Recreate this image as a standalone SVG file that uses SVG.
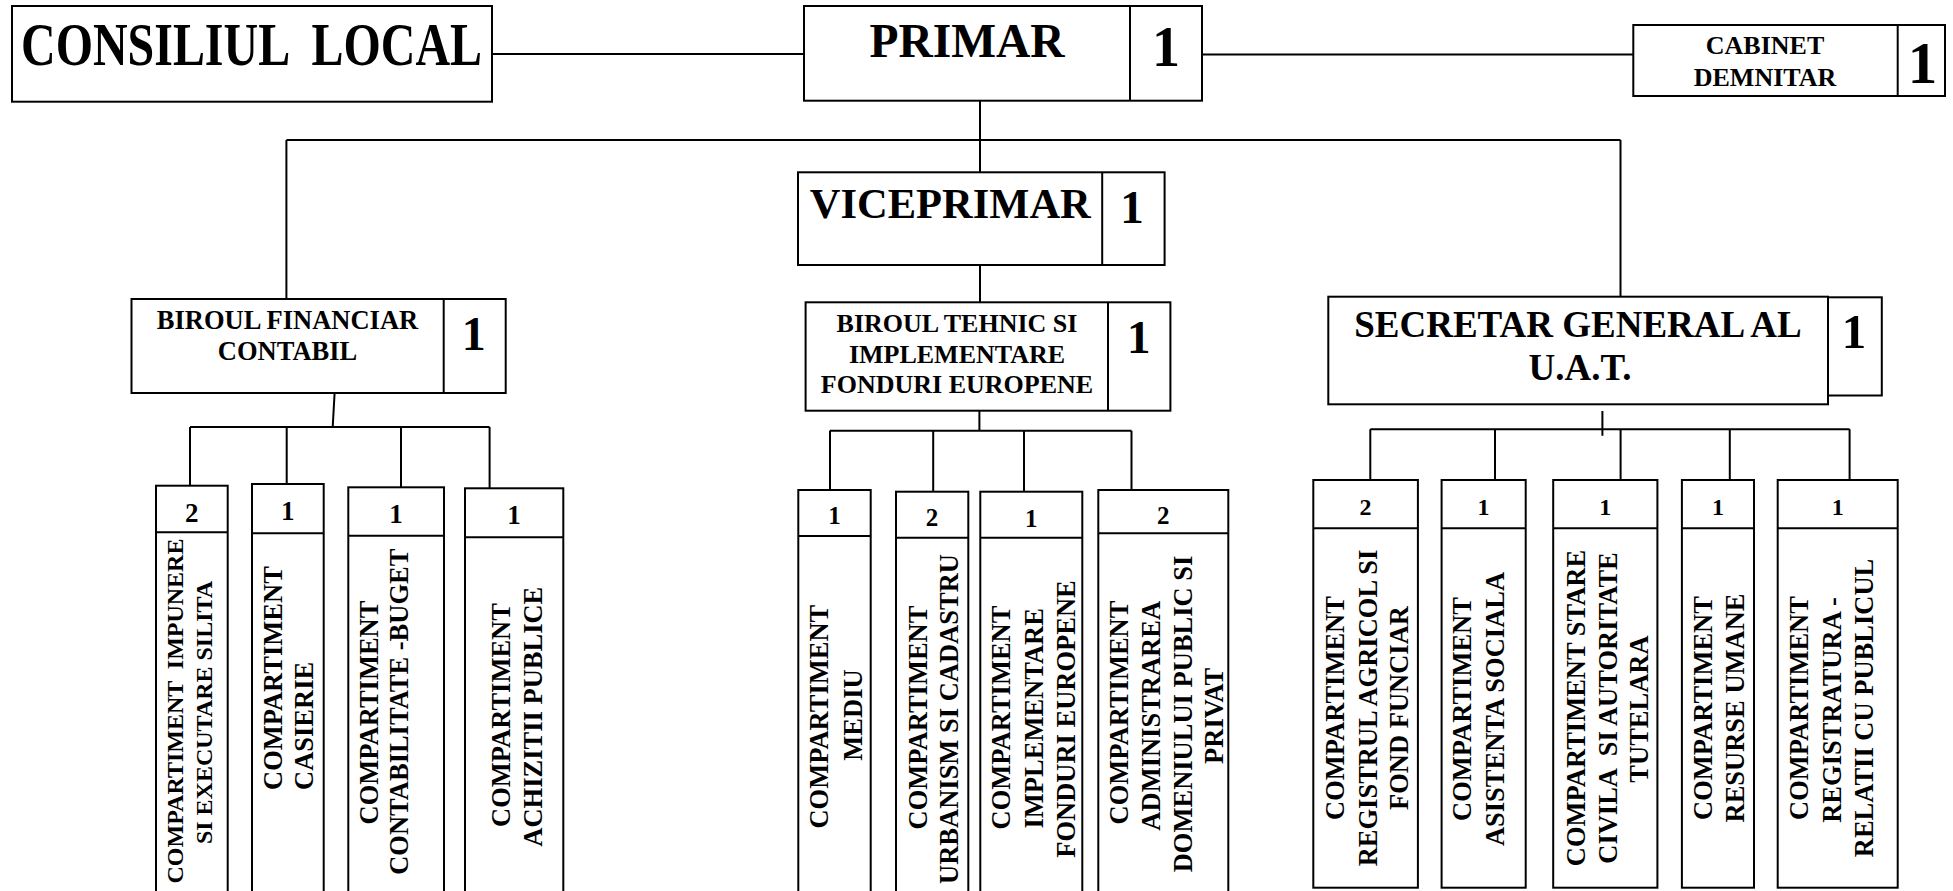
<svg xmlns="http://www.w3.org/2000/svg" width="1953" height="891" viewBox="0 0 1953 891">
<style>
.b{fill:#fff;stroke:#000;stroke-width:2}
.l{fill:none;stroke:#000;stroke-width:2}
text{font-family:"Liberation Serif","Times New Roman",serif;font-weight:bold;fill:#000}
.c{text-anchor:middle}
.v{font-size:26.5px;text-anchor:middle}
.s{font-size:24px;text-anchor:middle}
</style>
<rect width="1953" height="891" fill="#fff"/>
<g id="connectors">
<path class="l" d="M492 54H804M1202 54.5H1633M980 101V172.3M286.4 140H1620.5M286.4 140V299M1620.5 140V296.7M980 265V302.3"/>
<path class="l" d="M334.6 393L332.7 427M190 427H489.6M190 427V485.7M286.7 427V484M401 427V487.3M489.6 427V488.3"/>
<path class="l" d="M979.4 410.7V430.7M829.8 430.7H1131.5M830 430.7V490M933.2 430.7V491.7M1024 430.7V491.7M1131.5 430.7V490"/>
<path class="l" d="M1602.4 411V435.7M1370.3 429.3H1849.6M1370.3 429.3V480M1495 429.3V480M1620.6 429.3V480M1729.8 429.3V480M1849.6 429.3V480"/>
</g>
<g id="consiliul">
<rect class="b" x="12" y="6" width="480" height="95.7"/>
<text x="21" y="65" font-size="62" textLength="461" lengthAdjust="spacingAndGlyphs" xml:space="preserve">CONSILIUL  LOCAL</text>
</g>
<g id="primar">
<rect class="b" x="804" y="6" width="398" height="94.7"/>
<path class="l" d="M1130 6V100.7"/>
<text class="c" x="967" y="57" font-size="47.5">PRIMAR</text>
<text class="c" x="1166" y="66" font-size="56">1</text>
</g>
<g id="cabinet">
<rect class="b" x="1633.3" y="25" width="311.7" height="71"/>
<path class="l" d="M1897.7 25V96"/>
<text class="c" x="1765" y="54" font-size="26">CABINET</text>
<text class="c" x="1765" y="85.7" font-size="26">DEMNITAR</text>
<text class="c" x="1922.5" y="83.3" font-size="59">1</text>
</g>
<g id="viceprimar">
<rect class="b" x="798" y="172.3" width="366.6" height="92.7"/>
<path class="l" d="M1102.2 172.3V265"/>
<text class="c" x="950.3" y="218.3" font-size="42.5">VICEPRIMAR</text>
<text class="c" x="1132" y="223" font-size="47">1</text>
</g>
<g id="birou-financiar">
<rect class="b" x="131.5" y="299" width="374.2" height="94"/>
<path class="l" d="M443.7 299V393"/>
<text class="c" x="287.5" y="329" font-size="26.5">BIROUL FINANCIAR</text>
<text class="c" x="287.5" y="360" font-size="26.5">CONTABIL</text>
<text class="c" x="473.7" y="350" font-size="48">1</text>
</g>
<g id="birou-tehnic">
<rect class="b" x="805.6" y="302.3" width="364.8" height="108.4"/>
<path class="l" d="M1108 302.3V410.7"/>
<text class="c" x="957" y="331.7" font-size="26">BIROUL TEHNIC SI</text>
<text class="c" x="957" y="362.7" font-size="26">IMPLEMENTARE</text>
<text class="c" x="957" y="393.3" font-size="26">FONDURI EUROPENE</text>
<text class="c" x="1138.7" y="353" font-size="47">1</text>
</g>
<g id="secretar">
<rect class="b" x="1828" y="297.3" width="53.8" height="98.2"/>
<rect class="b" x="1328.3" y="296.7" width="499.7" height="107.6"/>
<text class="c" x="1578" y="337.3" font-size="37">SECRETAR GENERAL AL</text>
<text class="c" x="1580" y="380" font-size="37">U.A.T.</text>
<text class="c" x="1854" y="348.3" font-size="49">1</text>
</g>
<g id="comp-impunere">
<rect class="b" x="156" y="485.7" width="71.7" height="420"/>
<path class="l" d="M156 532.3H227.7"/>
<text class="c" x="191.8" y="521.7" font-size="27">2</text>
<text class="s" transform="translate(183.3 711) rotate(-90)" xml:space="preserve">COMPARTIMENT  IMPUNERE</text>
<text class="s" transform="translate(211.7 712.5) rotate(-90)">SI EXECUTARE SILITA</text>
</g>
<g id="comp-casierie">
<rect class="b" x="252" y="484" width="71.7" height="420"/>
<path class="l" d="M252 533.3H323.7"/>
<text class="c" x="287.8" y="520" font-size="27">1</text>
<text font-size="26.5" transform="translate(281.7 790) rotate(-90)">COMPARTIMENT</text>
<text font-size="26.5" transform="translate(313.3 790) rotate(-90)">CASIERIE</text>
</g>
<g id="comp-contabilitate">
<rect class="b" x="348.3" y="487.3" width="95.7" height="420"/>
<path class="l" d="M348.3 535.7H444"/>
<text class="c" x="396" y="522.7" font-size="27">1</text>
<text class="v" transform="translate(378.3 712.5) rotate(-90)">COMPARTIMENT</text>
<text class="v" transform="translate(408.3 711.7) rotate(-90)">CONTABILITATE -BUGET</text>
</g>
<g id="comp-achizitii">
<rect class="b" x="465" y="488.3" width="98.3" height="420"/>
<path class="l" d="M465 537.3H563.3"/>
<text class="c" x="514" y="524" font-size="27">1</text>
<text class="v" transform="translate(510 715) rotate(-90)">COMPARTIMENT</text>
<text class="v" transform="translate(541.7 716.7) rotate(-90)">ACHIZITII PUBLICE</text>
</g>
<g id="comp-mediu">
<rect class="b" x="798.3" y="490" width="72.4" height="420"/>
<path class="l" d="M798.3 536H870.7"/>
<text class="c" x="834.5" y="524.3" font-size="25">1</text>
<text class="v" transform="translate(828.3 716.7) rotate(-90)">COMPARTIMENT</text>
<text class="v" transform="translate(861.7 715) rotate(-90)">MEDIU</text>
</g>
<g id="comp-urbanism">
<rect class="b" x="896" y="491.7" width="72.3" height="420"/>
<path class="l" d="M896 537.7H968.3"/>
<text class="c" x="932" y="526" font-size="25">2</text>
<text class="v" transform="translate(926.7 717.5) rotate(-90)">COMPARTIMENT</text>
<text class="v" transform="translate(958.3 719) rotate(-90)">URBANISM SI CADASTRU</text>
</g>
<g id="comp-implementare">
<rect class="b" x="980.3" y="491.7" width="102" height="420"/>
<path class="l" d="M980.3 537.7H1082.3"/>
<text class="c" x="1031.3" y="526.7" font-size="25">1</text>
<text class="v" transform="translate(1010 717.5) rotate(-90)">COMPARTIMENT</text>
<text class="v" transform="translate(1043.3 718.3) rotate(-90)">IMPLEMENTARE</text>
<text class="v" transform="translate(1075 719) rotate(-90)">FONDURI EUROPENE</text>
</g>
<g id="comp-administrare">
<rect class="b" x="1098.3" y="490" width="130" height="420"/>
<path class="l" d="M1098.3 533.3H1228.3"/>
<text class="c" x="1163.3" y="524.3" font-size="25">2</text>
<text class="v" transform="translate(1128.3 712.5) rotate(-90)">COMPARTIMENT</text>
<text class="v" transform="translate(1160 715.8) rotate(-90)">ADMINISTRAREA</text>
<text class="v" transform="translate(1191.7 714) rotate(-90)">DOMENIULUI PUBLIC SI</text>
<text class="v" transform="translate(1223.3 715.8) rotate(-90)">PRIVAT</text>
</g>
<g id="comp-registrul-agricol">
<rect class="b" x="1313.3" y="480" width="104.6" height="407.7"/>
<path class="l" d="M1313.3 528.3H1417.9"/>
<text class="c" x="1365.6" y="515" font-size="24">2</text>
<text class="v" transform="translate(1343.7 708) rotate(-90)">COMPARTIMENT</text>
<text class="v" transform="translate(1377 708) rotate(-90)">REGISTRUL AGRICOL SI</text>
<text class="v" transform="translate(1408.3 708) rotate(-90)">FOND FUNCIAR</text>
</g>
<g id="comp-asistenta">
<rect class="b" x="1441.6" y="480" width="84.1" height="407.7"/>
<path class="l" d="M1441.6 528.3H1525.7"/>
<text class="c" x="1483.6" y="515" font-size="24">1</text>
<text class="v" transform="translate(1470.8 709) rotate(-90)">COMPARTIMENT</text>
<text class="v" transform="translate(1504 709) rotate(-90)">ASISTENTA SOCIALA</text>
</g>
<g id="comp-stare-civila">
<rect class="b" x="1553.2" y="480" width="104.2" height="407.7"/>
<path class="l" d="M1553.2 528.3H1657.4"/>
<text class="c" x="1605.3" y="515" font-size="24">1</text>
<text class="v" transform="translate(1585.3 708) rotate(-90)">COMPARTIMENT STARE</text>
<text class="v" transform="translate(1616.5 708) rotate(-90)" xml:space="preserve">CIVILA  SI AUTORITATE</text>
<text class="v" transform="translate(1647.8 709) rotate(-90)">TUTELARA</text>
</g>
<g id="comp-resurse-umane">
<rect class="b" x="1681.9" y="480" width="72.1" height="407.7"/>
<path class="l" d="M1681.9 528.3H1754"/>
<text class="c" x="1718" y="515" font-size="24">1</text>
<text class="v" transform="translate(1712.3 708) rotate(-90)">COMPARTIMENT</text>
<text class="v" transform="translate(1743.6 708) rotate(-90)">RESURSE UMANE</text>
</g>
<g id="comp-registratura">
<rect class="b" x="1777.7" y="480" width="120" height="407.7"/>
<path class="l" d="M1777.7 528.3H1897.7"/>
<text class="c" x="1837.7" y="515" font-size="24">1</text>
<text class="v" transform="translate(1808 708) rotate(-90)">COMPARTIMENT</text>
<text class="v" transform="translate(1841.4 710) rotate(-90)">REGISTRATURA -</text>
<text class="v" transform="translate(1872.7 708) rotate(-90)">RELATII CU PUBLICUL</text>
</g>
</svg>
